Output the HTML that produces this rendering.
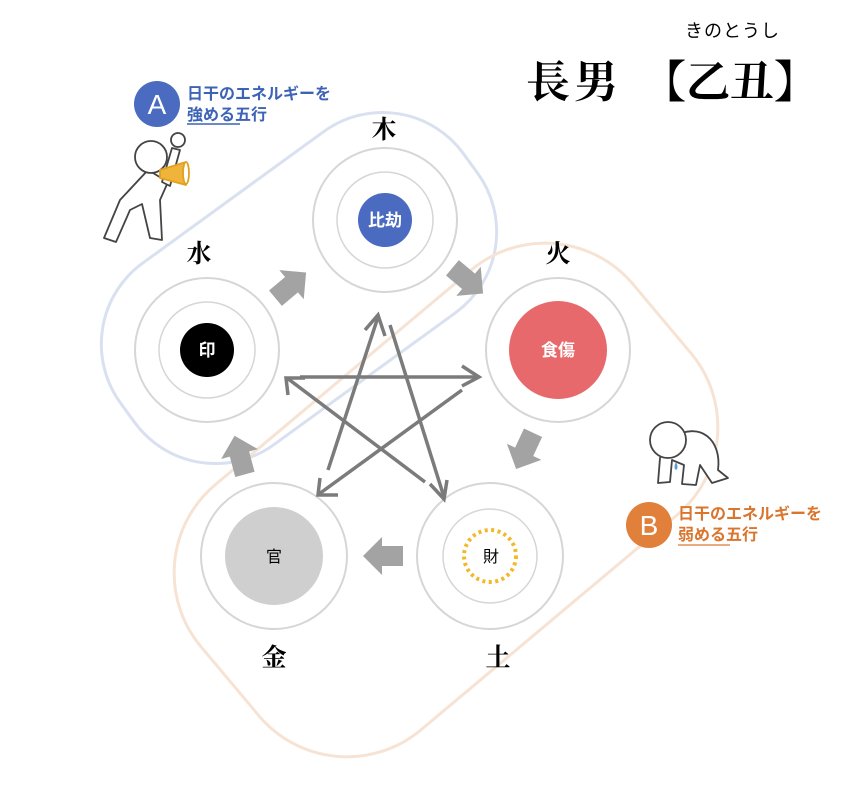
<!DOCTYPE html>
<html><head><meta charset="utf-8"><style>
body{margin:0;background:#fff}
svg{display:block}
.s{font-family:"Liberation Serif","Noto Serif CJK SC",serif}
.g{font-family:"Liberation Sans","Noto Sans CJK JP",sans-serif}
</style></head><body>
<svg width="850" height="793" viewBox="0 0 850 793" xmlns="http://www.w3.org/2000/svg">
<defs>
<path id="ba" d="M-19,-10 L2,-10 L2,-19 L21,0 L2,19 L2,10 L-19,10 Z" fill="#a3a3a3"/>
</defs>
<!-- regions -->
<rect x="-212" y="-112" width="424" height="224" rx="100" fill="none" stroke="#d9e1f1" stroke-width="3" transform="translate(299,288) rotate(-36)"/>
<rect x="-282" y="-160" width="564" height="320" rx="115" fill="none" stroke="#f6e3d4" stroke-width="3" transform="translate(446,500) rotate(-40)"/>
<!-- circles -->
<g fill="none" stroke="#d6d6d6" stroke-width="2">
<circle cx="385" cy="220" r="72"/><circle cx="385" cy="220" r="48" stroke-width="1.5"/>
<circle cx="207" cy="350" r="72"/><circle cx="207" cy="350" r="48" stroke-width="1.5"/>
<circle cx="558" cy="350" r="72"/>
<circle cx="274" cy="556" r="73"/>
<circle cx="490" cy="556" r="73"/><circle cx="490" cy="556" r="47" stroke-width="1.5"/>
</g>
<circle cx="385" cy="220" r="27" fill="#4a6bbf"/>
<circle cx="207" cy="350" r="27" fill="#000"/>
<circle cx="558" cy="350" r="49" fill="#e8696b"/>
<circle cx="274" cy="556" r="49" fill="#d0cfd0"/>
<circle cx="490" cy="556" r="26" fill="none" stroke="#f2b825" stroke-width="4" stroke-dasharray="3 3.5"/>
<g class="g" font-weight="bold" font-size="17" text-anchor="middle" fill="#fff">
<text x="385" y="226">比劫</text><text x="207" y="356">印</text><text x="558" y="356">食傷</text>
</g>
<g class="g" font-size="16" text-anchor="middle" fill="#000">
<text x="274" y="562">官</text><text x="491" y="562">財</text>
</g>
<!-- element labels -->
<g class="s" font-size="25" font-weight="bold" text-anchor="middle" fill="#000">
<text x="384" y="138">木</text><text x="199" y="262">水</text><text x="558" y="262">火</text>
<text x="274" y="666">金</text><text x="498" y="666">土</text>
</g>
<!-- block arrows -->
<use href="#ba" transform="translate(290,286) rotate(-40)"/>
<use href="#ba" transform="translate(467,280) rotate(40)"/>
<use href="#ba" transform="translate(525,450) rotate(115)"/>
<use href="#ba" transform="translate(384,556) rotate(180)"/>
<use href="#ba" transform="translate(240,456) rotate(-105)"/>
<!-- pentagram -->
<g stroke="#7b7b7b" stroke-width="3.5" fill="none">
<line x1="328" y1="470" x2="378" y2="317"/><polyline points="365,330 378,315 385,336"/>
<line x1="390" y1="325" x2="444" y2="497"/><polyline points="430,484 444,499 447,480"/>
<line x1="300" y1="377" x2="478" y2="377"/><polyline points="462,366 479,377 462,386"/>
<line x1="462" y1="390" x2="319" y2="494"/><polyline points="320,478 318,495 338,495"/>
<line x1="425" y1="482" x2="287" y2="378"/><polyline points="288,395 286,378 305,378"/>
</g>
<!-- title -->
<text class="s" x="526" y="97" font-size="44" font-weight="bold" fill="#000" letter-spacing="4">長男</text>
<text class="s" x="642" y="97" font-size="44" font-weight="bold" fill="#000">【乙丑】</text>
<text class="g" x="685" y="37" font-size="18" fill="#000" letter-spacing="1">きのとうし</text>
<!-- A -->
<circle cx="157" cy="104" r="23" fill="#4a6bbf"/>
<text class="g" x="157" y="114" font-size="28" fill="#fff" text-anchor="middle">A</text>
<text class="g" x="187" y="99" font-size="16" font-weight="bold" fill="#3c63b5">日干のエネルギーを</text>
<text class="g" x="187" y="120" font-size="16" font-weight="bold" fill="#3c63b5">強める五行</text>
<line x1="187" y1="124" x2="240" y2="124" stroke="#3c63b5" stroke-width="1.5"/>
<!-- B -->
<circle cx="649" cy="525" r="23" fill="#e0803a"/>
<text class="g" x="649" y="535" font-size="28" fill="#fff" text-anchor="middle">B</text>
<text class="g" x="678" y="519" font-size="16" font-weight="bold" fill="#d9752d">日干のエネルギーを</text>
<text class="g" x="678" y="540" font-size="16" font-weight="bold" fill="#d9752d">弱める五行</text>
<line x1="678" y1="545" x2="730" y2="545" stroke="#e0905a" stroke-width="1.5"/>
<!-- figure A -->
<g stroke="#444" stroke-width="1.8" fill="#fff" stroke-linejoin="round">
<path d="M148,170 L120,200 L104,238 L116,242 L130,210 L142,204 L150,238 L162,240 L160,200 L168,182 Z"/>
<path d="M162,182 L172,148 L180,150 L170,186 Z"/>
<circle cx="178" cy="140" r="7"/>
<circle cx="151" cy="157" r="16"/>
<path d="M160,170 L186,162 L186,185 L160,178 Z" fill="#f0b43a" stroke="#e0a020"/>
<ellipse cx="186" cy="173" rx="3" ry="11" fill="#fff" stroke="#e0a020"/>
</g>
<!-- figure B -->
<g stroke="#444" stroke-width="1.8" fill="#fff" stroke-linejoin="round">
<path d="M672,438 C700,420 722,440 718,470 L728,478 L712,483 L700,465 L696,485 L682,484 L684,465 L672,460 L670,482 L658,483 L660,458 Z"/>
<circle cx="668" cy="440" r="18"/>
</g>
<path d="M676,462 q-3,6 0,8 q3,-2 0,-8z" fill="#5b9bd5"/>
</svg>
</body></html>
